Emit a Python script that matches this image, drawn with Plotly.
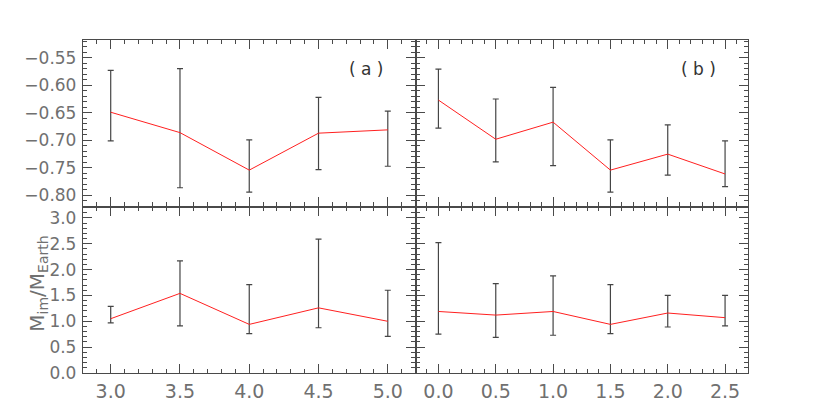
import plotly.graph_objects as go
from plotly.subplots import make_subplots

# значення
x_a = [3.0, 3.5, 4.0, 4.5, 5.0]
x_b = [0.0, 0.5, 1.0, 1.5, 2.0, 2.5]

top_a = [-0.649, -0.686, -0.754, -0.687, -0.681]
top_a_hi = [-0.573, -0.570, -0.699, -0.622, -0.647]
top_a_lo = [-0.701, -0.786, -0.794, -0.753, -0.747]

top_b = [-0.627, -0.698, -0.667, -0.754, -0.725, -0.761]
top_b_hi = [-0.571, -0.625, -0.604, -0.699, -0.672, -0.701]
top_b_lo = [-0.678, -0.739, -0.746, -0.794, -0.763, -0.784]

bot_a = [1.05, 1.54, 0.94, 1.26, 1.00]
bot_a_hi = [1.29, 2.17, 1.71, 2.59, 1.60]
bot_a_lo = [0.97, 0.91, 0.76, 0.875, 0.71]

bot_b = [1.19, 1.12, 1.19, 0.94, 1.16, 1.07]
bot_b_hi = [2.52, 1.73, 1.88, 1.71, 1.50, 1.50]
bot_b_lo = [0.75, 0.69, 0.73, 0.76, 0.89, 0.91]

panel_labels = ["( a )", "( b )"]
y_title = "M<sub>im</sub>/M<sub>Earth</sub>"

FONT = "DejaVu Sans"
AXC = "#4a4a4a"
TXT = "#707070"


def err_trace(x, y, hi, lo):
    return go.Scatter(
        x=x, y=y, mode="lines",
        line=dict(color="#ff2020", width=1),
        error_y=dict(
            type="data", symmetric=False,
            array=[h - v for h, v in zip(hi, y)],
            arrayminus=[v - l for v, l in zip(y, lo)],
            color="#454545", thickness=1.2, width=3,
        ),
        showlegend=False,
    )


fig = make_subplots(rows=2, cols=2, horizontal_spacing=0, vertical_spacing=0)
fig.add_trace(err_trace(x_a, top_a, top_a_hi, top_a_lo), row=1, col=1)
fig.add_trace(err_trace(x_b, top_b, top_b_hi, top_b_lo), row=1, col=2)
fig.add_trace(err_trace(x_a, bot_a, bot_a_hi, bot_a_lo), row=2, col=1)
fig.add_trace(err_trace(x_b, bot_b, bot_b_hi, bot_b_lo), row=2, col=2)

common = dict(
    showline=True, linecolor=AXC, linewidth=1.3, mirror="allticks",
    ticks="inside", ticklen=9, tickcolor=AXC, tickwidth=1,
    showgrid=False, zeroline=False, automargin=False,
)

for r in (1, 2):
    for c in (1, 2):
        xr = [2.8, 5.2] if c == 1 else [-0.2, 2.7]
        fig.update_xaxes(
            range=xr, dtick=0.5, tick0=0,
            showticklabels=(r == 2), tickformat=".1f",
            tickfont=dict(family=FONT, size=19, color=TXT),
            ticklabelstandoff=1,
            minor=dict(dtick=0.1, ticks="inside", ticklen=4, tickcolor=AXC, showgrid=False),
            row=r, col=c, **common,
        )
        if r == 1:
            fig.update_yaxes(
                range=[-0.82, -0.518], dtick=0.05, tick0=0, tickformat=".2f",
                minor=dict(dtick=0.01, ticks="inside", ticklen=4, tickcolor=AXC, showgrid=False),
                row=r, col=c, **common,
            )
        else:
            fig.update_yaxes(
                range=[0, 3.22], dtick=0.5, tick0=0, tickformat=".1f",
                minor=dict(dtick=0.1, ticks="inside", ticklen=4, tickcolor=AXC, showgrid=False),
                row=r, col=c, **common,
            )
        fig.update_yaxes(
            showticklabels=(c == 1),
            tickfont=dict(family=FONT, size=17, color=TXT),
            ticklabelstandoff=2,
            row=r, col=c,
        )

fig.add_annotation(text=panel_labels[0], xref="x domain", yref="y domain",
                   x=0.91, y=0.9, showarrow=False,
                   font=dict(family=FONT, size=17, color="#333333"))
fig.add_annotation(text=panel_labels[1], xref="x2 domain", yref="y2 domain",
                   x=0.91, y=0.9, showarrow=False,
                   font=dict(family=FONT, size=17, color="#333333"))
fig.add_annotation(text=y_title, xref="paper", yref="paper",
                   x=(23 - 83) / 665, y=0.118, textangle=-90, showarrow=False,
                   font=dict(family=FONT, size=20, color=TXT))

# сторінка має відступ 8px, тому розмір і поля трохи менші
fig.update_layout(
    width=822, height=407,
    margin=dict(l=75, r=82, t=32, b=42),
    paper_bgcolor="white", plot_bgcolor="white",
)
fig.write_html("out.html")
